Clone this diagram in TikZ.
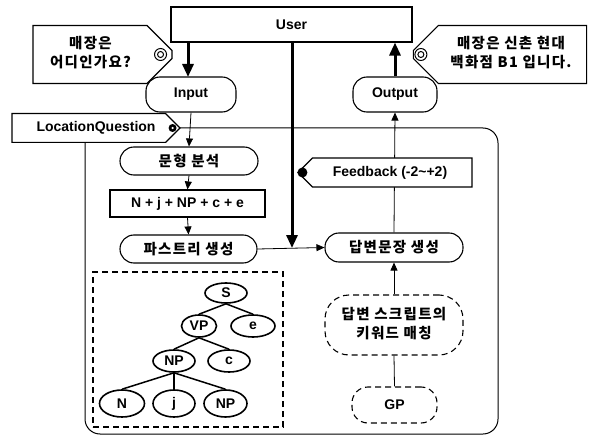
\documentclass[tikz,border=0pt]{standalone}
\usepackage{fontspec}
\setmainfont{Liberation Sans}
\newfontfamily\kr{Noto Sans CJK KR}[LetterSpace=9]
\usetikzlibrary{shapes.misc,shapes.geometric,arrows.meta}

\begin{document}
\begin{tikzpicture}[x=1pt,y=-1pt,
    box/.style ={draw, line width=1.1pt, inner sep=0pt, font=\bfseries\fontsize{14}{17}\selectfont},
    krbox/.style ={box, font=\kr\bfseries\fontsize{14.5}{19}\selectfont},
    stadium/.style ={rounded corners=14pt},
    dash line/.style ={dash pattern=on 6pt off 4pt},
    tagbox/.style ={fill=white, chamfered rectangle, chamfered rectangle xsep=15pt, chamfered rectangle ysep=10pt},
    treenode/.style ={ellipse, draw, line width=1.6pt, inner sep=0pt, font=\bfseries\fontsize{14}{17}\selectfont},
    flow/.style ={line width=0.8pt, -{Triangle[length=8pt,width=7pt]}},
    bigflow/.style ={line width=3pt, -{Triangle[length=13pt,width=11pt]}},
    branch/.style ={line width=1.5pt}]
   \useasboundingbox (0,0) rectangle (592,441);

   % frames
   \node[draw, line width=1pt, rounded corners=15pt, minimum width=413pt, minimum height=306pt] (frame) at (291.5,281) {};
   \node[draw, dash line, line width=1.1pt, minimum width=190pt, minimum height=155pt] (treebox) at (188,349.5) {};

   % user side
   \node[box, minimum width=241pt, minimum height=35pt] (user) at (291.5,24.5) {User};
   \node[krbox, tagbox, chamfered rectangle corners={north east,south east}, minimum width=139pt, minimum height=47pt] (askq) at (102.5,54.5) {\begin{tabular}{@{}c@{}}매장은\\어디인가요?\end{tabular}\hspace*{24pt}};
   \node[krbox, tagbox, chamfered rectangle corners={north west,south west}, minimum width=170pt, minimum height=47pt] (answer) at (500,54.5) {\hspace*{22pt}\begin{tabular}{@{}c@{}}매장은 신촌 현대\\백화점 B1 입니다.\end{tabular}};
   \node[box, stadium, minimum width=90pt, minimum height=35pt] (input) at (191,94.5) {Input};
   \node[box, stadium, minimum width=84pt, minimum height=35pt] (output) at (395,94.5) {Output};
   \node[box, tagbox, chamfered rectangle corners={north east,south east}, chamfered rectangle xsep=11pt, chamfered rectangle ysep=8pt, minimum width=168pt, minimum height=26pt] (locq) at (96,128) {LocationQuestion\hspace{15pt}};

   % analysis
   \node[krbox, stadium, minimum width=138pt, minimum height=28pt] (syntax) at (189,161) {문형 분석};
   \node[box, minimum width=155pt, minimum height=27pt] (pattern) at (187.5,203.5) {N + j + NP + c + e};
   \node[krbox, stadium, minimum width=137pt, minimum height=28pt] (parse) at (188.5,249) {파스트리 생성};
   \node[krbox, stadium, minimum width=138pt, minimum height=29pt] (gen) at (394,247.5) {답변문장 생성};
   \node[krbox, dash line, rounded corners=24pt, minimum width=138pt, minimum height=60pt] (match) at (394,325) {\begin{tabular}{@{}c@{}}답변 스크립트의\\키워드 매칭\end{tabular}};
   \node[box, dash line, rounded corners=16pt, minimum width=85pt, minimum height=36pt] (gp) at (394.5,405) {GP};
   \coordinate (hit) at (292,248);

   % parse tree
   \node[treenode, minimum width=42pt, minimum height=20pt] (S) at (226,293) {S};
   \node[treenode, minimum width=35pt, minimum height=22pt] (VP) at (199,326) {VP};
   \node[treenode, minimum width=44pt, minimum height=22pt] (E) at (253,326) {e};
   \node[treenode, minimum width=42pt, minimum height=22pt] (NP) at (174,361) {NP};
   \node[treenode, minimum width=42pt, minimum height=22pt] (C) at (229,361) {c};
   \node[treenode, minimum width=45pt, minimum height=27pt] (N) at (122,403.5) {N};
   \node[treenode, minimum width=42pt, minimum height=27pt] (J) at (174,403.5) {j};
   \node[treenode, minimum width=43pt, minimum height=27pt] (NPb) at (225.5,403.5) {NP};

   \draw[branch] (S.south) to (VP.north);
   \draw[branch] (S.south) to (E.north);
   \draw[branch] (VP.south) to (NP.north);
   \draw[branch] (VP.south) to (C.north);
   \draw[branch] (NP.south) to (N.north);
   \draw[branch] (NP.south) to (J.north);
   \draw[branch] (NP.south) to (NPb.north);

   % connectors
   \draw[bigflow] (user.south -| 188,0) to (188,77);
   \draw[flow] (input.south) to (syntax.north);
   \draw[flow] (syntax.south) to (pattern.north);
   \draw[flow] (pattern.south) to (parse.north);
   \draw[flow] (parse.east) to (gen.west);
   \draw[bigflow] (user.south -| hit) to (hit);
   \draw[flow] (gen.north) to (output.south);
   \draw[bigflow] (output.north) to (output.north |- user.south);
   \draw[flow] (match.north) to (gen.south);
   \draw[line width=0.8pt] (gp.north) to (match.south);

   % feedback tag
   \node[box, tagbox, chamfered rectangle corners={north west,south west}, chamfered rectangle xsep=12pt, chamfered rectangle ysep=8pt, minimum width=174pt, minimum height=29pt] (fb) at (385,172.5) {\hspace{10pt}Feedback (-2\textasciitilde+2)};

   % markers
   \draw[line width=1pt] ([xshift=-12pt]askq.east) circle (6pt);
   \draw[line width=1pt] ([xshift=-12pt]askq.east) circle (3pt);
   \draw[line width=1pt] ([xshift=8pt]answer.west) circle (6pt);
   \draw[line width=1pt] ([xshift=8pt]answer.west) circle (3pt);
   \fill ([xshift=-8pt]locq.east) circle (4pt);
   \fill[white] ([xshift=-8pt]locq.east) circle (1.2pt);
   \fill ([xshift=5pt]fb.west) circle (5pt);
 \end{tikzpicture}
\end{document}
